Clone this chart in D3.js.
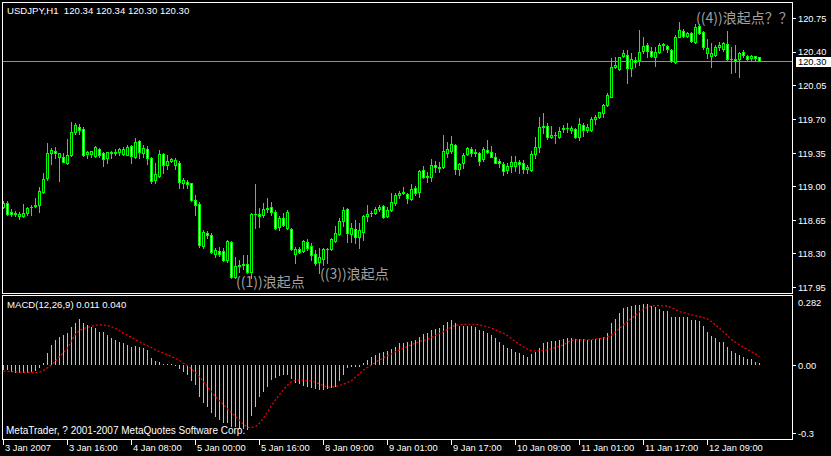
<!DOCTYPE html>
<html><head><meta charset="utf-8">
<script src="https://cdn.jsdelivr.net/npm/d3@7"></script>
<style>html,body{margin:0;padding:0;background:#000;overflow:hidden}svg{display:block}text{font-family:"Liberation Sans",Arial,sans-serif;white-space:pre}</style>
</head><body><svg id="c" width="831" height="456"></svg>
<script>
// ---- DATA ----
const symbolTitle = "USDJPY,H1  120.34 120.34 120.30 120.30";
const macdTitle = "MACD(12,26,9) 0.011 0.040";
const copyright = "MetaTrader, ? 2001-2007 MetaQuotes Software Corp.";
const lastPrice = 120.30;
const priceTicks = [117.95,118.30,118.65,119.00,119.35,119.70,120.05,120.40,120.75];
const macdTickValues = [0.282,0.00,-0.3];
const macdTickLabels = ["0.282","0.00","-0.3"];
const timeTickBars = [0,16,32,48,64,80,96,112,128,144,160,176];
const timeTickLabels = ["3 Jan 2007","3 Jan 16:00","4 Jan 08:00","5 Jan 00:00","5 Jan 16:00","8 Jan 09:00","9 Jan 01:00","9 Jan 17:00","10 Jan 09:00","11 Jan 01:00","11 Jan 17:00","12 Jan 09:00"];
const waveLabels = ["((1))浪起点","((3))浪起点","((4))浪起点？？"];
const waveBars = [58,79,173];
const wavePrices = [118.00,118.085,120.745];
// open, high, low, close per H1 bar
const ohlc = [
[118.78,118.85,118.77,118.82],[118.82,118.84,118.70,118.71],[118.73,118.76,118.69,118.71],[118.72,118.74,118.69,118.71],[118.69,118.73,118.66,118.71],
[118.69,118.81,118.68,118.72],[118.72,118.78,118.70,118.77],[118.78,118.80,118.70,118.78],[118.79,118.88,118.78,118.80],[118.80,118.99,118.73,118.95],
[118.94,119.14,118.93,119.07],[119.08,119.45,119.06,119.34],[119.34,119.40,119.23,119.38],[119.37,119.41,119.29,119.34],[119.30,119.34,119.05,119.34],
[119.30,119.34,119.25,119.25],[119.24,119.49,119.23,119.32],[119.32,119.67,119.31,119.56],[119.56,119.66,119.54,119.64],[119.62,119.65,119.54,119.58],
[119.59,119.62,119.31,119.32],[119.33,119.37,119.29,119.36],[119.33,119.37,119.30,119.37],[119.31,119.42,119.30,119.41],[119.39,119.40,119.30,119.32],
[119.34,119.36,119.21,119.28],[119.29,119.36,119.24,119.36],[119.36,119.37,119.29,119.34],[119.34,119.39,119.32,119.36],[119.36,119.40,119.32,119.39],
[119.33,119.41,119.32,119.39],[119.32,119.43,119.32,119.41],[119.42,119.43,119.24,119.31],[119.30,119.50,119.29,119.46],[119.47,119.48,119.29,119.36],
[119.34,119.43,119.30,119.40],[119.39,119.42,119.23,119.29],[119.29,119.30,119.03,119.05],[119.06,119.24,119.03,119.13],[119.11,119.38,119.10,119.33],
[119.33,119.34,119.14,119.22],[119.22,119.32,119.18,119.26],[119.26,119.29,119.25,119.28],[119.22,119.29,119.18,119.27],[119.24,119.26,118.98,119.04],
[119.03,119.08,118.98,119.06],[119.04,119.06,118.98,119.02],[119.03,119.03,118.84,118.86],[118.86,118.91,118.70,118.80],[118.81,118.83,118.37,118.39],
[118.38,118.54,118.36,118.52],[118.51,118.53,118.46,118.49],[118.49,118.51,118.30,118.31],[118.29,118.36,118.26,118.33],[118.32,118.37,118.27,118.29],
[118.32,118.36,118.22,118.23],[118.23,118.44,118.21,118.43],[118.42,118.43,118.04,118.05],[118.05,118.26,118.04,118.17],[118.17,118.23,118.11,118.18],
[118.18,118.28,118.14,118.19],[118.19,118.28,118.10,118.11],[118.11,118.72,118.04,118.71],[118.71,119.02,118.56,118.71],[118.71,118.77,118.57,118.69],
[118.70,118.82,118.68,118.76],[118.76,118.88,118.73,118.77],[118.78,118.83,118.70,118.73],[118.73,118.75,118.55,118.56],[118.57,118.69,118.54,118.67],
[118.67,118.72,118.59,118.60],[118.56,118.75,118.55,118.73],[118.55,118.56,118.34,118.35],[118.29,118.37,118.20,118.35],[118.35,118.37,118.30,118.31],
[118.32,118.44,118.31,118.43],[118.42,118.45,118.34,118.36],[118.38,118.41,118.23,118.28],[118.29,118.34,118.18,118.20],[118.21,118.36,118.10,118.26],
[118.24,118.36,118.18,118.35],[118.35,118.36,118.20,118.35],[118.35,118.46,118.34,118.45],[118.43,118.59,118.42,118.51],[118.50,118.67,118.49,118.64],
[118.64,118.78,118.58,118.75],[118.76,118.77,118.42,118.51],[118.50,118.62,118.42,118.56],[118.55,118.65,118.41,118.47],[118.47,118.62,118.36,118.54],
[118.52,118.70,118.44,118.69],[118.69,118.80,118.64,118.71],[118.72,118.74,118.69,118.72],[118.72,118.78,118.71,118.76],[118.76,118.80,118.74,118.78],
[118.79,118.80,118.67,118.68],[118.69,118.78,118.68,118.75],[118.75,118.93,118.74,118.83],[118.82,118.93,118.80,118.91],[118.91,118.95,118.88,118.93],
[118.93,118.99,118.92,118.94],[118.92,118.93,118.82,118.88],[118.87,119.02,118.86,118.97],[118.98,119.00,118.91,118.93],[118.94,119.17,118.89,119.16],
[119.17,119.21,119.08,119.09],[119.10,119.15,119.04,119.11],[119.10,119.28,119.05,119.22],[119.22,119.26,119.15,119.20],[119.20,119.25,119.15,119.19],
[119.20,119.53,119.19,119.37],[119.34,119.46,119.30,119.39],[119.37,119.52,119.34,119.44],[119.43,119.44,119.13,119.18],[119.18,119.24,119.12,119.23],
[119.24,119.34,119.19,119.32],[119.33,119.41,119.32,119.40],[119.39,119.41,119.31,119.34],[119.36,119.39,119.31,119.34],[119.34,119.36,119.22,119.26],
[119.28,119.41,119.26,119.39],[119.38,119.48,119.34,119.36],[119.36,119.42,119.30,119.30],[119.30,119.34,119.24,119.24],[119.26,119.28,119.20,119.24],
[119.23,119.25,119.12,119.16],[119.17,119.24,119.14,119.21],[119.21,119.31,119.15,119.25],[119.21,119.31,119.16,119.25],[119.25,119.27,119.14,119.23],
[119.24,119.27,119.14,119.18],[119.18,119.22,119.14,119.20],[119.17,119.37,119.16,119.33],[119.33,119.51,119.29,119.41],[119.41,119.72,119.36,119.62],
[119.62,119.76,119.55,119.63],[119.63,119.66,119.49,119.51],[119.51,119.63,119.50,119.53],[119.53,119.56,119.45,119.53],[119.51,119.62,119.50,119.57],
[119.59,119.64,119.56,119.60],[119.60,119.66,119.56,119.61],[119.58,119.63,119.55,119.61],[119.59,119.61,119.50,119.51],[119.51,119.71,119.48,119.65],
[119.64,119.66,119.52,119.58],[119.58,119.65,119.56,119.62],[119.58,119.72,119.57,119.70],[119.70,119.74,119.65,119.72],[119.72,119.77,119.71,119.77],
[119.76,119.86,119.72,119.84],[119.84,119.97,119.83,119.95],[119.93,120.33,119.93,120.24],[120.24,120.34,120.23,120.26],[120.22,120.34,120.21,120.34],
[120.35,120.42,120.34,120.39],[120.37,120.42,120.07,120.23],[120.23,120.39,120.15,120.32],[120.31,120.34,120.24,120.29],[120.31,120.62,120.26,120.40],
[120.41,120.55,120.39,120.46],[120.47,120.49,120.34,120.41],[120.41,120.45,120.34,120.35],[120.34,120.45,120.25,120.40],[120.40,120.49,120.39,120.47],
[120.47,120.49,120.42,120.48],[120.46,120.47,120.40,120.43],[120.42,120.43,120.29,120.30],[120.29,120.57,120.28,120.55],[120.55,120.71,120.55,120.62],
[120.61,120.64,120.55,120.56],[120.56,120.60,120.55,120.59],[120.59,120.60,120.50,120.51],[120.50,120.69,120.49,120.66],[120.67,120.69,120.58,120.59],
[120.60,120.61,120.43,120.45],[120.39,120.53,120.33,120.44],[120.35,120.49,120.24,120.39],[120.36,120.47,120.35,120.45],[120.45,120.50,120.42,120.47],
[120.43,120.50,120.41,120.49],[120.48,120.61,120.30,120.32],[120.32,120.45,120.18,120.32],[120.32,120.47,120.19,120.30],[120.32,120.40,120.14,120.39],
[120.40,120.42,120.34,120.36],[120.35,120.37,120.31,120.32],[120.33,120.36,120.31,120.35],[120.35,120.35,120.31,120.33],[120.34,120.34,120.30,120.30]
];
const macdMain = [
-0.020,-0.020,-0.028,-0.032,-0.035,-0.035,-0.032,-0.028,-0.023,-0.013,
0.013,0.054,0.092,0.114,0.129,0.136,0.144,0.170,0.191,0.206,
0.188,0.181,0.170,0.166,0.151,0.151,0.136,0.121,0.114,0.106,
0.099,0.092,0.084,0.087,0.081,0.077,0.069,0.032,0.022,0.017,
0.007,0.007,0.007,0.002,-0.017,-0.028,-0.042,-0.068,-0.087,-0.142,
-0.166,-0.187,-0.214,-0.228,-0.243,-0.255,-0.258,-0.273,-0.276,-0.285,
-0.285,-0.288,-0.225,-0.187,-0.139,-0.117,-0.094,-0.065,-0.057,-0.047,
-0.042,-0.042,-0.062,-0.080,-0.083,-0.092,-0.094,-0.099,-0.106,-0.109,
-0.109,-0.106,-0.102,-0.094,-0.068,-0.042,-0.013,-0.008,-0.008,-0.005,
0.010,0.025,0.039,0.047,0.057,0.062,0.066,0.072,0.084,0.099,
0.102,0.106,0.110,0.114,0.129,0.141,0.144,0.158,0.161,0.166,
0.181,0.196,0.203,0.191,0.176,0.176,0.176,0.176,0.170,0.158,
0.156,0.147,0.136,0.121,0.106,0.092,0.077,0.072,0.062,0.057,
0.047,0.039,0.051,0.062,0.077,0.102,0.106,0.109,0.109,0.114,
0.117,0.121,0.121,0.117,0.117,0.117,0.114,0.114,0.117,0.121,
0.129,0.144,0.188,0.206,0.236,0.255,0.263,0.266,0.270,0.270,
0.275,0.275,0.266,0.260,0.251,0.245,0.245,0.218,0.218,0.218,
0.218,0.215,0.203,0.203,0.200,0.176,0.151,0.132,0.121,0.106,
0.106,0.084,0.066,0.054,0.047,0.039,0.028,0.028,0.017,0.011];
const macdSignal = [
-0.025,-0.026,-0.027,-0.028,-0.029,-0.030,-0.031,-0.031,-0.031,-0.030,
-0.022,-0.010,0.002,0.020,0.040,0.058,0.077,0.110,0.140,0.155,
0.165,0.170,0.175,0.179,0.181,0.181,0.178,0.173,0.165,0.155,
0.144,0.135,0.125,0.115,0.106,0.097,0.088,0.080,0.069,0.062,
0.055,0.047,0.040,0.032,0.022,0.011,0.000,-0.015,-0.032,-0.050,
-0.072,-0.095,-0.117,-0.139,-0.157,-0.175,-0.193,-0.211,-0.228,-0.245,
-0.262,-0.276,-0.276,-0.273,-0.258,-0.235,-0.208,-0.180,-0.153,-0.130,
-0.108,-0.088,-0.072,-0.067,-0.065,-0.066,-0.068,-0.070,-0.074,-0.082,
-0.090,-0.097,-0.096,-0.094,-0.090,-0.084,-0.076,-0.068,-0.052,-0.036,
-0.020,-0.009,0.003,0.014,0.025,0.034,0.043,0.052,0.061,0.069,
0.077,0.085,0.093,0.100,0.106,0.112,0.117,0.125,0.134,0.143,
0.151,0.161,0.171,0.180,0.182,0.183,0.184,0.184,0.184,0.181,
0.177,0.173,0.166,0.159,0.151,0.144,0.133,0.120,0.106,0.094,
0.083,0.073,0.065,0.065,0.066,0.068,0.069,0.075,0.080,0.086,
0.092,0.103,0.112,0.114,0.114,0.114,0.114,0.116,0.118,0.120,
0.121,0.128,0.136,0.150,0.166,0.182,0.196,0.210,0.225,0.240,
0.252,0.260,0.266,0.267,0.267,0.266,0.265,0.258,0.250,0.240,
0.236,0.231,0.226,0.222,0.218,0.213,0.208,0.195,0.181,0.166,
0.150,0.133,0.116,0.104,0.092,0.080,0.072,0.062,0.051,0.040];

// ---- CHART ----
const svg = d3.select('#c');
svg.append('rect').attr('width',831).attr('height',456).attr('fill','#000');
const LIME = '#00ff00';
const FS_AXIS = 9.3, FS_TITLE = 9.6, FS_COPY = 10;
const x = d3.scaleLinear().domain([0, ohlc.length-1]).range([3, 759]);
const y = d3.scaleLinear().domain([117.95, 120.75]).range([287, 18]);
const ym = d3.scaleLinear().domain([-0.3, 0.282]).range([432.7, 302.3]);

const defs = svg.append('defs');
defs.append('clipPath').attr('id','mainClip').append('rect').attr('x',3).attr('y',3).attr('width',789).attr('height',290);
defs.append('clipPath').attr('id','macdClip').append('rect').attr('x',3).attr('y',296).attr('width',789).attr('height',143);

// current price line
svg.append('line').attr('x1',3).attr('x2',792).attr('y1',Math.round(y(lastPrice))+0.5).attr('y2',Math.round(y(lastPrice))+0.5)
  .attr('stroke','#909090').attr('stroke-width',1).attr('shape-rendering','crispEdges');

// candles
const cg = svg.append('g').attr('clip-path','url(#mainClip)').attr('shape-rendering','crispEdges');
ohlc.forEach((d,i)=>{
  const [o,h,l,c] = d;
  const cx = Math.round(x(i));
  const yh = Math.round(y(h)), yl = Math.round(y(l));
  cg.append('rect').attr('x',cx).attr('y',yh).attr('width',1).attr('height',Math.max(1,yl-yh+1)).attr('fill',LIME);
  const top = Math.round(y(Math.max(o,c))), bot = Math.round(y(Math.min(o,c)));
  if (bot - top < 1) {
    cg.append('rect').attr('x',cx-1).attr('y',top).attr('width',3).attr('height',1).attr('fill',LIME);
  } else {
    cg.append('rect').attr('x',cx-1).attr('y',top).attr('width',3).attr('height',bot-top+1).attr('fill',LIME);
    if (bot-top >= 2)
      cg.append('rect').attr('x',cx).attr('y',top+1).attr('width',1).attr('height',bot-top-1).attr('fill', c>o ? '#000' : '#fff');
  }
});

// MACD histogram
const mg = svg.append('g').attr('clip-path','url(#macdClip)').attr('shape-rendering','crispEdges');
const y0 = Math.round(ym(0));
macdMain.forEach((v,i)=>{
  const cx = Math.round(x(i));
  const yv = Math.round(ym(v));
  mg.append('rect').attr('x',cx).attr('y',Math.min(yv,y0)).attr('width',1).attr('height',Math.max(1,Math.abs(yv-y0))).attr('fill','#c0c0c0');
});
// signal line (dotted red)
svg.append('path').attr('clip-path','url(#macdClip)')
  .attr('d', d3.line().x((v,i)=>Math.round(x(i))+0.5).y(v=>ym(v))(macdSignal))
  .attr('fill','none').attr('stroke','#ff0000').attr('stroke-width',1.2).attr('stroke-dasharray','2,2');

// frames
const fr = svg.append('g').attr('shape-rendering','crispEdges').attr('fill','none').attr('stroke','#fff');
fr.append('rect').attr('x',2.5).attr('y',2.5).attr('width',790).attr('height',291);
fr.append('rect').attr('x',2.5).attr('y',295.5).attr('width',790).attr('height',144);

// price axis
const pa = svg.append('g');
priceTicks.forEach(p=>{
  const yy = Math.round(y(p))+0.5;
  pa.append('line').attr('x1',793).attr('x2',796).attr('y1',yy).attr('y2',yy).attr('stroke','#fff').attr('shape-rendering','crispEdges');
  pa.append('text').attr('x',798).attr('y',yy - (p===120.40 ? 1 : 0)).attr('dy','0.35em').attr('fill','#fff').attr('font-size',FS_AXIS).text(p.toFixed(2));
});
// last price box
const ly = Math.round(y(lastPrice));
pa.append('rect').attr('x',796).attr('y',ly-4).attr('width',35).attr('height',10).attr('fill','#fff');
pa.append('text').attr('x',798).attr('y',ly+1).attr('dy','0.35em').attr('fill','#000').attr('font-size',FS_AXIS).text(lastPrice.toFixed(2));

// macd axis
macdTickValues.forEach((v,k)=>{
  const yy = Math.round(ym(v))+0.5;
  if (k>0) pa.append('line').attr('x1',793).attr('x2',796).attr('y1',yy).attr('y2',yy).attr('stroke','#fff').attr('shape-rendering','crispEdges');
  pa.append('text').attr('x',798).attr('y',yy).attr('dy','0.35em').attr('fill','#fff').attr('font-size',FS_AXIS).text(macdTickLabels[k]);
});

// time axis
timeTickBars.forEach((b,k)=>{
  const cx = Math.round(x(b))+0.5;
  pa.append('line').attr('x1',cx).attr('x2',cx).attr('y1',440).attr('y2',445).attr('stroke','#fff').attr('shape-rendering','crispEdges');
  pa.append('text').attr('x',cx+1.5).attr('y',448).attr('dy','0.35em').attr('fill','#fff').attr('font-size',FS_AXIS).text(timeTickLabels[k]);
});

// titles
svg.append('text').attr('x',7).attr('y',11).attr('dy','0.35em').attr('fill','#fff').attr('font-size',FS_TITLE).text(symbolTitle);
svg.append('text').attr('x',7).attr('y',305).attr('dy','0.35em').attr('fill','#fff').attr('font-size',FS_TITLE).text(macdTitle);
svg.append('text').attr('x',6).attr('y',430).attr('dy','0.35em').attr('fill','#fff').attr('font-size',FS_COPY).text(copyright);

// wave annotations
waveLabels.forEach((t,k)=>{
  svg.append('text').attr('x',Math.round(x(waveBars[k]))+1)
    .attr('y',y(wavePrices[k]))
    .attr('dy','0.35em').attr('fill','#a0a0a0').attr('font-size',14)
    .style('font-family','"Noto Sans CJK SC",sans-serif').text(t);
});
</script></body></html>
